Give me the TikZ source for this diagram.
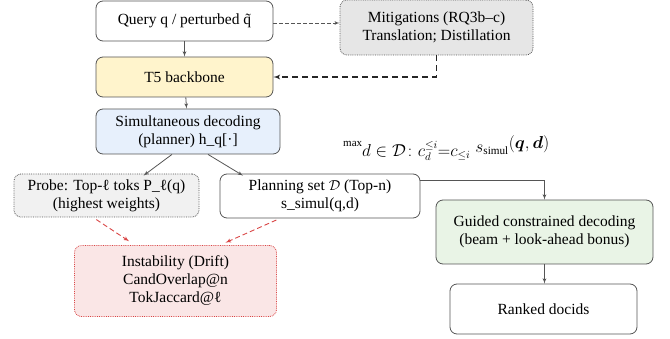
\documentclass[tikz,border=0pt]{standalone}
\usepackage{amsmath}
\usepackage{amssymb}
\usepackage{fontspec}
\setmainfont{Liberation Serif}
\usepackage{tikz}
\usetikzlibrary{arrows,positioning,calc}
\definecolor{tfivefill}{HTML}{FFF4CC}
\definecolor{simulfill}{HTML}{E7F0FC}
\definecolor{mitigfill}{HTML}{E6E6E6}
\definecolor{probefill}{HTML}{F1F1F1}
\definecolor{driftfill}{HTML}{FAE6E6}
\definecolor{driftline}{HTML}{D94545}
\definecolor{guidedfill}{HTML}{E9F4E6}
\definecolor{edgegray}{HTML}{555555}

\begin{document}
\begin{tikzpicture}[
		x=1pt, y=-1pt,
		>=latex',
		font=\fontsize{15.5}{18}\selectfont,
		block/.style={
			rectangle,
			rounded corners=7pt,
			draw=edgegray,
			line width=0.8pt,
			align=center,
			inner sep=0pt,
			fill=white
		},
		dotbox/.style={
			block,
			densely dotted
		},
		flow/.style={
			draw=edgegray,
			line width=0.8pt
		},
		drift/.style={
			draw=driftline,
			line width=0.9pt,
			dash pattern=on 5pt off 3pt
		}
		]
		\useasboundingbox (0,0) rectangle (670,339);
		% We start by placing the blocks
		
		\node [block, minimum width=177pt, minimum height=40pt] (query) at (184.5,21)
		{Query q / perturbed q̃};
		
		\node [block, fill=tfivefill, minimum width=177pt, minimum height=40pt] (tfive) at (184.5,77)
		{T5 backbone};
		
		\node [block, fill=simulfill, minimum width=184pt, minimum height=45pt] (simul) at (188,131.5)
		{Simultaneous decoding\\(planner) h\_q[·]};
		
		\node [dotbox, fill=mitigfill, minimum width=193pt, minimum height=55pt] (mitig) at (436.5,27.5)
		{Mitigations (RQ3b--c)\\Translation; Distillation};
		
		\node [dotbox, fill=probefill, minimum width=185pt, minimum height=43pt] (probe) at (106.5,195.5)
		{Probe: Top-ℓ toks P\_ℓ(q)\\(highest weights)};
		
		\node [block, minimum width=200pt, minimum height=44pt] (plan) at (320,196)
		{Planning set $\mathcal{D}$ (Top-n)\\s\_simul(q,d)};
		
		\node [dotbox, draw=driftline, fill=driftfill, minimum width=202pt, minimum height=71pt] (instab) at (175.5,281)
		{Instability (Drift)\\CandOverlap@n\\TokJaccard@ℓ};
		
		\node [block, fill=guidedfill, minimum width=217pt, minimum height=64pt] (guided) at (544.5,232)
		{Guided constrained decoding\\(beam + look-ahead bonus)};
		
		\node [block, minimum width=187pt, minimum height=50pt] (ranked) at (543.5,309)
		{Ranked docids};
		
		% look-ahead rule, set as in the figure
		\node [anchor=west, inner sep=0pt, font=\fontsize{16}{18}\selectfont] (rule) at (343,148)
		{\raisebox{6pt}{\fontsize{11}{12}\selectfont max}%
			\raisebox{-4pt}{$d\in\mathcal{D}\colon c_{d}^{\le i}{=}c_{\le i}$}\hspace{5pt}%
			$s_{\mathrm{simul}}$\raisebox{4pt}{$(\boldsymbol{q},\boldsymbol{d})$}};
		
		% main flow
		\draw [flow,->] (query) -- (tfive);
		\draw [flow,->] (tfive) -- (simul);
		\draw [flow,->] ([xshift=-16pt]simul.south) -- ([xshift=37pt, yshift=-2pt]probe.north);
		\draw [flow,->] ([xshift=20pt]simul.south) -- ([xshift=-77pt, yshift=-2pt]plan.north);
		\draw [flow,->] ([yshift=16pt]plan.east) -| (guided.north);
		\draw [flow,->] (guided.south) -- (guided.south |- ranked.north);
		
		% mitigation loop
		\draw [draw=edgegray, line width=0.7pt, dash pattern=on 4pt off 2pt, ->] ([yshift=-2pt]query.east) -- ([yshift=4.5pt]mitig.west);
		\draw [draw=black!85, line width=1.3pt, dash pattern=on 6pt off 4pt, ->] (mitig.south) |- (tfive.east);
		
		% drift
		\draw [drift,->, shorten <=4pt, shorten >=7pt] ([xshift=-13.5pt]probe.south) -- ([xshift=-40.5pt]instab.north);
		\draw [drift,->, shorten <=4pt, shorten >=6pt] ([xshift=-40pt]plan.south) -- ([xshift=44.5pt]instab.north);
		
		\end{tikzpicture}
\end{document}
